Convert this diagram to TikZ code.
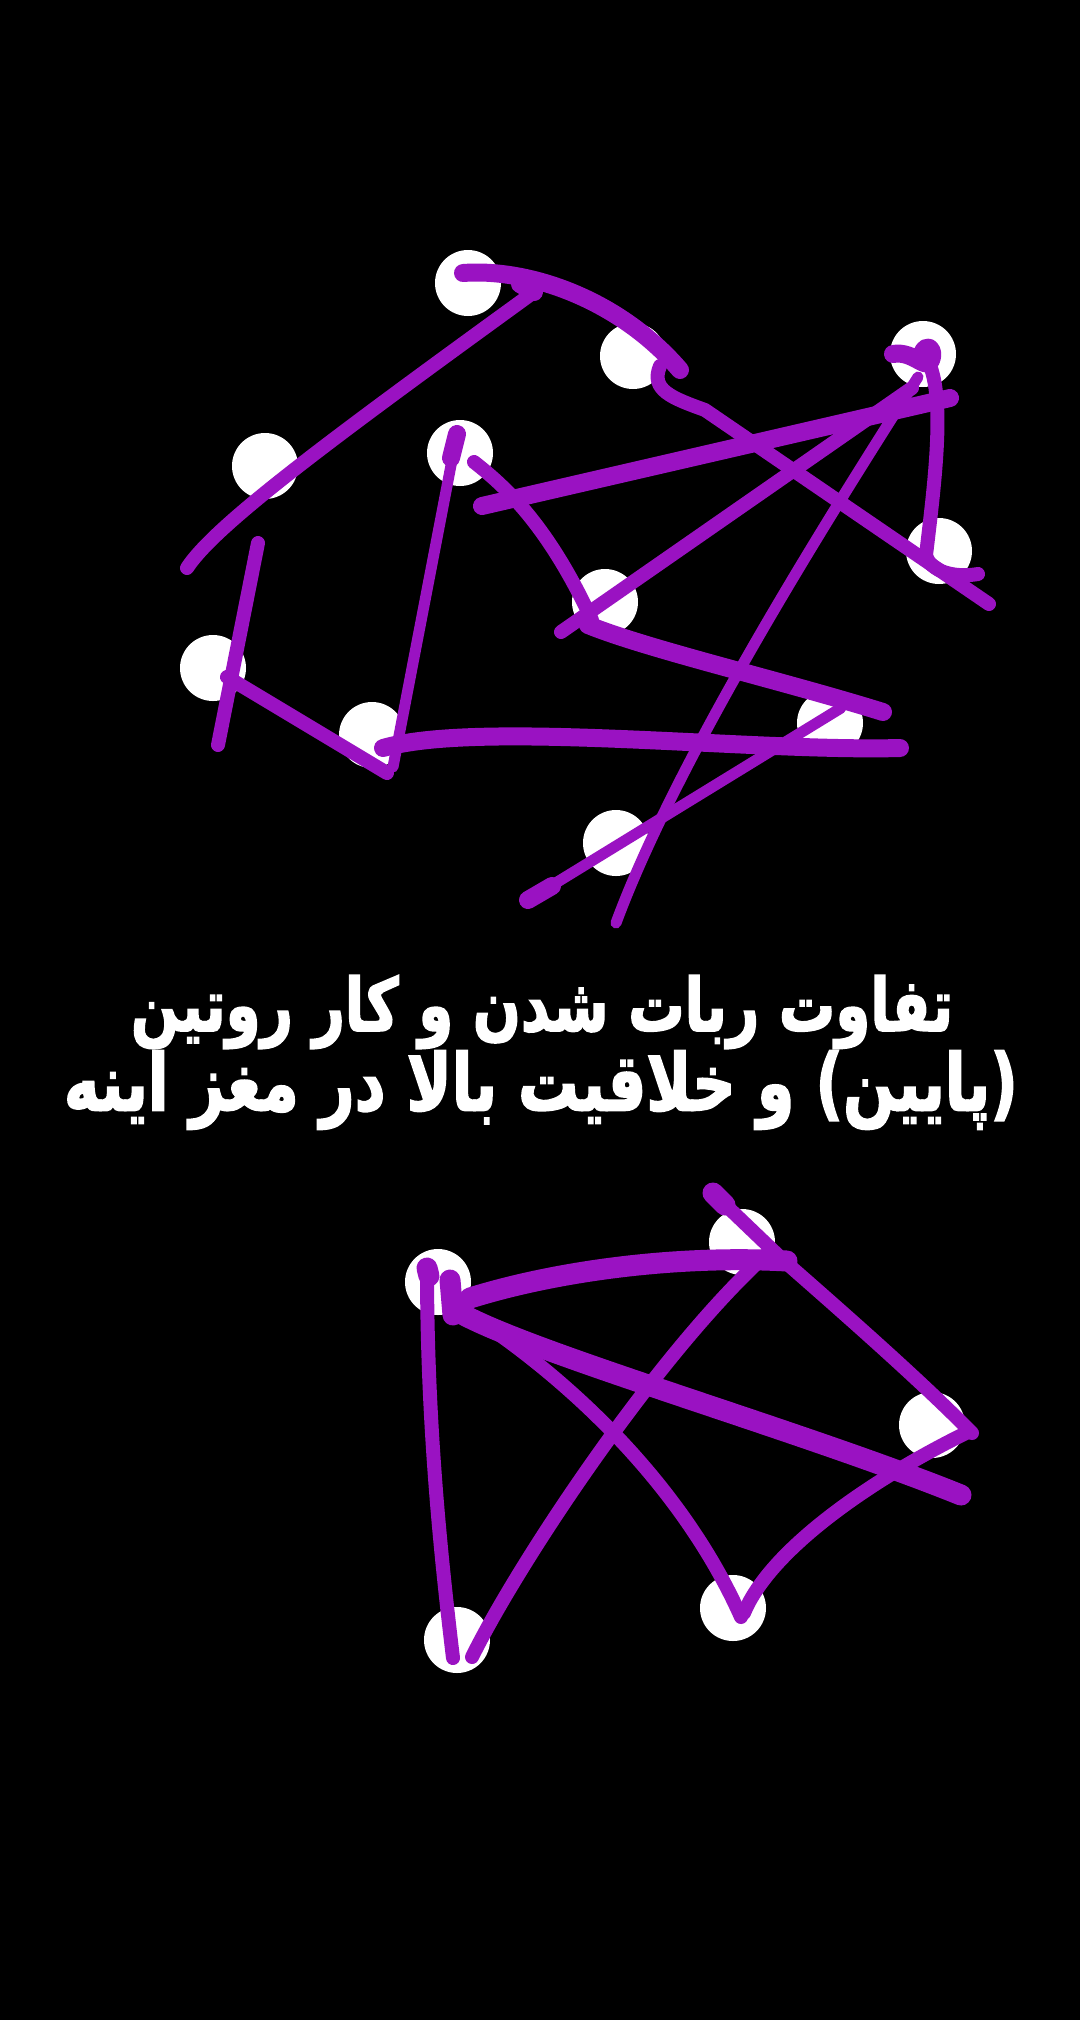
\documentclass[tikz,border=0pt]{standalone}
\usepackage{fontspec}
\newfontfamily\arabicfont[Script=Arabic, FakeBold=2.5]{DejaVu Sans}
\TeXXeTstate=1
\definecolor{pen}{HTML}{9A12C2}
\begin{document}
\begin{tikzpicture}[x=0.5pt,y=-0.5pt,
  dot/.style={circle, fill=white, minimum size=33pt, inner sep=0pt},
  ink/.style={draw=pen, line width=7pt, line cap=round, line join=round},
  inkthin/.style={ink, line width=5.5pt},
  inkthick/.style={ink, line width=9pt},
  inkfat/.style={ink, line width=10.5pt},
  caption/.style={text=white, inner sep=0pt}]
\fill[black] (0,0) rectangle (1080,2020);
\useasboundingbox (0,0) rectangle (1080,2020);

% ---------- top cluster dots ----------
\node[dot] (A) at (468,283) {};
\node[dot] (B) at (633,356) {};
\node[dot] (C) at (923,354) {};
\node[dot] (D) at (265,466) {};
\node[dot] (E) at (460,453) {};
\node[dot] (F) at (939,551) {};
\node[dot] (G) at (605,602) {};
\node[dot] (H) at (213,668) {};
\node[dot] (I) at (372,735) {};
\node[dot] (J) at (830,723) {};
\node[dot] (K) at (616,843) {};

% ---------- top cluster stroke ends ----------
\coordinate (t1a) at (187,568);  \coordinate (t1b) at (534,292);  \coordinate (t1c) at (520,284);
\coordinate (t2a) at (463,273);  \coordinate (t2b) at (680,370);
\coordinate (t3a) at (660,366);  \coordinate (t3b) at (989,604);
\coordinate (t4a) at (893,354);  \coordinate (t4b) at (922,360);
\coordinate (t5a) at (950,398);  \coordinate (t5b) at (482,506);
\coordinate (t6a) at (912,388);  \coordinate (t6b) at (561,632);
\coordinate (t7a) at (918,377);  \coordinate (t7b) at (616,923);
\coordinate (t8a) at (929,363);  \coordinate (t8b) at (978,574);
\coordinate (t9a) at (457,434);  \coordinate (t9b) at (393,767);  \coordinate (t9c) at (451,458);
\coordinate (t10a) at (474,462); \coordinate (t10b) at (592,620);
\coordinate (t11a) at (588,625); \coordinate (t11b) at (883,712);
\coordinate (t12a) at (841,708); \coordinate (t12b) at (528,900);  \coordinate (t12c) at (552,886);
\coordinate (t13a) at (383,748); \coordinate (t13b) at (900,748);
\coordinate (t14a) at (258,543); \coordinate (t14b) at (218,745);
\coordinate (t15a) at (227,677); \coordinate (t15b) at (387,773);

% ---------- top cluster strokes ----------
\draw[ink] (t1a) .. controls (215,525) and (330,440) .. (t1b);
\draw[inkthick] (t1c) -- (t1b);
\draw[inkthick] (t2a) .. controls (530,268) and (620,300) .. (t2b);
\draw[ink] (t3a) .. controls (650,390) and (672,398) .. (705,410) -- (t3b);
\draw[inkthick] (t4a) .. controls (915,350) and (928,375) .. (932,357)
                      .. controls (934,343) and (920,345) .. (t4b);
\draw[inkthick] (t5a) -- (t5b);
\draw[ink] (t6a) -- (t6b);
\draw[inkthin] (t7a) .. controls (840,500) and (680,750) .. (t7b);
\draw[ink] (t8a) .. controls (945,400) and (935,480) .. (926,555)
                 .. controls (930,572) and (955,578) .. (t8b);
\draw[inkthin] (t9a) -- (t9b);
\draw[inkthick] (t9a) -- (t9c);
\draw[ink] (t10a) .. controls (510,490) and (550,530) .. (t10b);
\draw[inkthick] (t11a) .. controls (650,650) and (780,680) .. (t11b);
\draw[inkthin] (t12a) -- (t12b);
\draw[inkthick] (t12b) -- (t12c);
\draw[inkthick] (t13a) .. controls (480,720) and (750,752) .. (t13b);
\draw[ink] (t14a) -- (t14b);
\draw[ink] (t15a) -- (t15b);

% ---------- caption ----------
\node[caption] (cap1) at (542,1012)
  {\scalebox{1}[1.3]{\resizebox{411pt}{!}{\arabicfont\bfseries\beginR تفاوت ربات شدن و کار روتین\endR}}};
\node[caption] (cap2) at (541,1090)
  {\scalebox{1}[1.3]{\resizebox{477pt}{!}{\arabicfont\bfseries\beginR (پایین) و خلاقیت بالا در مغز اینه\endR}}};

% ---------- bottom cluster dots ----------
\node[dot] (L) at (438,1282) {};
\node[dot] (M) at (742,1242) {};
\node[dot] (N) at (932,1425) {};
\node[dot] (O) at (733,1608) {};
\node[dot] (P) at (457,1640) {};

% ---------- bottom cluster stroke ends ----------
\coordinate (b1a) at (713,1193); \coordinate (b1m) at (783,1260); \coordinate (b1b) at (972,1433); \coordinate (b1c) at (725,1205);
\coordinate (b2a) at (470,1298); \coordinate (b2b) at (787,1261);
\coordinate (b3a) at (427,1268); \coordinate (b3b) at (453,1658);
\coordinate (b4a) at (472,1657); \coordinate (b4b) at (768,1253);
\coordinate (b5a) at (455,1305); \coordinate (b5b) at (741,1617);
\coordinate (b6a) at (455,1310); \coordinate (b6b) at (961,1495);
\coordinate (b7a) at (744,1613); \coordinate (b7b) at (968,1432);
\coordinate (b8a) at (450,1280); \coordinate (b8b) at (453,1315);

% ---------- bottom cluster strokes ----------
\draw[ink] (b1a) -- (b1m) .. controls (840,1310) and (920,1380) .. (b1b);
\draw[inkfat] (b1a) -- (b1c);
\draw[inkfat] (b2a) .. controls (560,1270) and (680,1255) .. (b2b);
\draw[ink] (b3a) .. controls (427,1420) and (440,1550) .. (b3b);
\draw[inkfat] (b3a) -- ++(2,8);
\draw[ink] (b4a) .. controls (520,1560) and (660,1350) .. (b4b);
\draw[ink] (b5a) .. controls (560,1370) and (680,1480) .. (b5b);
\draw[inkfat] (b6a) .. controls (520,1350) and (800,1430) .. (b6b);
\draw[ink] (b7a) .. controls (770,1550) and (870,1480) .. (b7b);
\draw[inkfat] (b8a) -- (b8b);
\end{tikzpicture}
\end{document}
